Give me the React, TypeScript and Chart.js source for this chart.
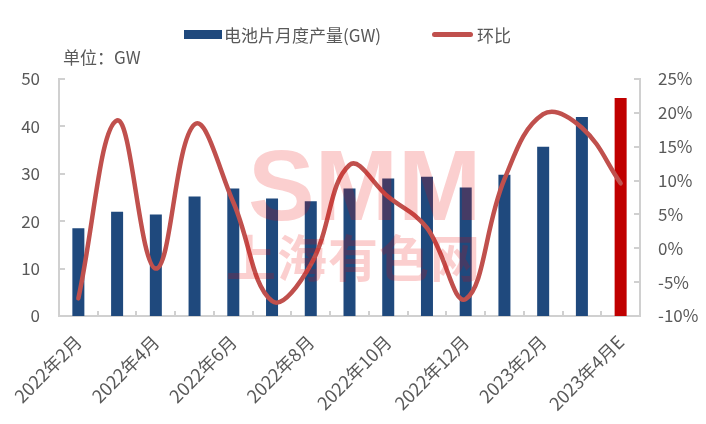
import React, { useEffect, useRef } from 'react';
import { Chart, registerables } from 'chart.js';

Chart.register(...registerables);

const categories = [
  '2022年2月', '2022年3月', '2022年4月', '2022年5月', '2022年6月', '2022年7月', '2022年8月',
  '2022年9月', '2022年10月', '2022年11月', '2022年12月', '2023年1月', '2023年2月', '2023年3月', '2023年4月E',
];
const production = [18.5, 22.0, 21.4, 25.2, 26.9, 24.8, 24.2, 26.9, 29.0, 29.4, 27.1, 29.8, 35.7, 42.0, 46.0];
const momChange = [-7.4, 18.9, -3.0, 18.3, 6.8, -7.8, -2.4, 12.3, 7.6, 3.0, -7.5, 10.2, 19.8, 17.8, 9.6];
const seriesNames = ['电池片月度产量(GW)', '环比'];
const unitLabel = '单位：GW';

const BLUE = '#1F497D';
const RED_BAR = '#C00000';
const LINE_RED = '#C0504D';
const AXIS = '#D0D0D0';
const TEXT = '#595959';
const FONT = '"Noto Sans CJK SC", "Noto Sans", sans-serif';

const innerTicks = {
  id: 'innerTicks',
  afterDraw(chart: any) {
    const { ctx, chartArea, scales } = chart;
    ctx.save();
    ctx.strokeStyle = AXIS;
    ctx.lineWidth = 2;
    ctx.beginPath();
    scales.y.ticks.forEach((t: any) => {
      const y = Math.round(scales.y.getPixelForValue(t.value));
      ctx.moveTo(chartArea.left, y);
      ctx.lineTo(chartArea.left + 6, y);
    });
    scales.y2.ticks.forEach((t: any) => {
      const y = Math.round(scales.y2.getPixelForValue(t.value));
      ctx.moveTo(chartArea.right, y);
      ctx.lineTo(chartArea.right - 6, y);
    });
    const n = categories.length;
    const w = (scales.x.right - scales.x.left) / n;
    for (let i = 1; i < n; i++) {
      const x = Math.round(scales.x.left + i * w);
      ctx.moveTo(x, chartArea.bottom);
      ctx.lineTo(x, chartArea.bottom - 5);
    }
    ctx.stroke();
    ctx.restore();
  },
};

export default function App() {
  const ref = useRef<HTMLCanvasElement | null>(null);
  useEffect(() => {
    if (!ref.current) return;
    const chart = new Chart(ref.current, {
      type: 'bar',
      data: {
        labels: categories,
        datasets: [
          {
            type: 'line',
            label: seriesNames[1],
            data: momChange,
            yAxisID: 'y2',
            borderColor: LINE_RED,
            backgroundColor: LINE_RED,
            borderWidth: 4.5,
            borderCapStyle: 'round',
            tension: 0.4,
            pointRadius: 0,
            order: 0,
          } as any,
          {
            type: 'bar',
            label: seriesNames[0],
            data: production,
            yAxisID: 'y',
            backgroundColor: production.map((_, i) => (i === production.length - 1 ? RED_BAR : BLUE)),
            barPercentage: 0.31,
            categoryPercentage: 1,
            order: 1,
          },
        ],
      },
      options: {
        animation: false,
        responsive: false,
        maintainAspectRatio: false,
        layout: { padding: { top: 79, left: 0, right: 0, bottom: 0 } },
        plugins: { legend: { display: false }, tooltip: { enabled: false } },
        scales: {
          x: {
            grid: { display: false, drawTicks: false },
            border: { display: true, color: AXIS, width: 2 },
            ticks: {
              autoSkip: false,
              maxRotation: 45,
              minRotation: 45,
              padding: 15,
              color: TEXT,
              font: { family: FONT, size: 18 },
              callback: (_v: any, i: number) => (i % 2 === 0 ? categories[i] : ''),
            },
            afterFit: (s: any) => { s.height = 108; },
          },
          y: {
            position: 'left',
            min: 0,
            max: 50,
            grid: { display: false, drawTicks: false },
            border: { display: true, color: AXIS, width: 2 },
            ticks: { stepSize: 10, padding: 19, color: TEXT, font: { family: FONT, size: 17 } },
            afterFit: (s: any) => { s.width = 59; },
          },
          y2: {
            position: 'right',
            min: -10,
            max: 25,
            grid: { display: false, drawTicks: false },
            border: { display: true, color: AXIS, width: 2 },
            ticks: {
              stepSize: 5,
              padding: 18,
              color: TEXT,
              font: { family: FONT, size: 17 },
              callback: (v: any) => `${v}%`,
            },
            afterFit: (s: any) => { s.width = 66; },
          },
        },
      },
      plugins: [innerTicks],
    });
    return () => chart.destroy();
  }, []);

  const textStyle: React.CSSProperties = {
    position: 'absolute',
    fontFamily: FONT,
    fontSize: 17,
    lineHeight: '17px',
    color: TEXT,
    whiteSpace: 'nowrap',
  };

  return (
    <div style={{ position: 'fixed', left: 0, top: 0, width: 706, height: 424, background: '#fff', overflow: 'hidden' }}>
      <canvas ref={ref} width={706} height={424} style={{ position: 'absolute', left: 0, top: 0, width: 706, height: 424 }} />
      <div style={{ position: 'absolute', left: 184, top: 30, width: 38, height: 9, background: BLUE }} />
      <span style={{ ...textStyle, left: 224, top: 26 }}>{seriesNames[0]}</span>
      <div style={{ position: 'absolute', left: 432, top: 32, width: 41, height: 4.5, borderRadius: 3, background: LINE_RED }} />
      <span style={{ ...textStyle, left: 477, top: 26 }}>{seriesNames[1]}</span>
      <span style={{ ...textStyle, left: 63, top: 48 }}>{unitLabel}</span>
      <div style={{ position: 'absolute', left: 248, top: 135, fontFamily: '"Liberation Sans", Arial, sans-serif', fontWeight: 700, fontSize: 100, lineHeight: '100px', color: 'rgba(235,0,0,0.19)', pointerEvents: 'none' }}>SMM</div>
      <div style={{ position: 'absolute', left: 226, top: 230, fontFamily: '"Noto Sans CJK SC", sans-serif', fontWeight: 700, fontSize: 50, lineHeight: '50px', letterSpacing: 1, color: 'rgba(235,0,0,0.19)', pointerEvents: 'none' }}>上海有色网</div>
    </div>
  );
}
